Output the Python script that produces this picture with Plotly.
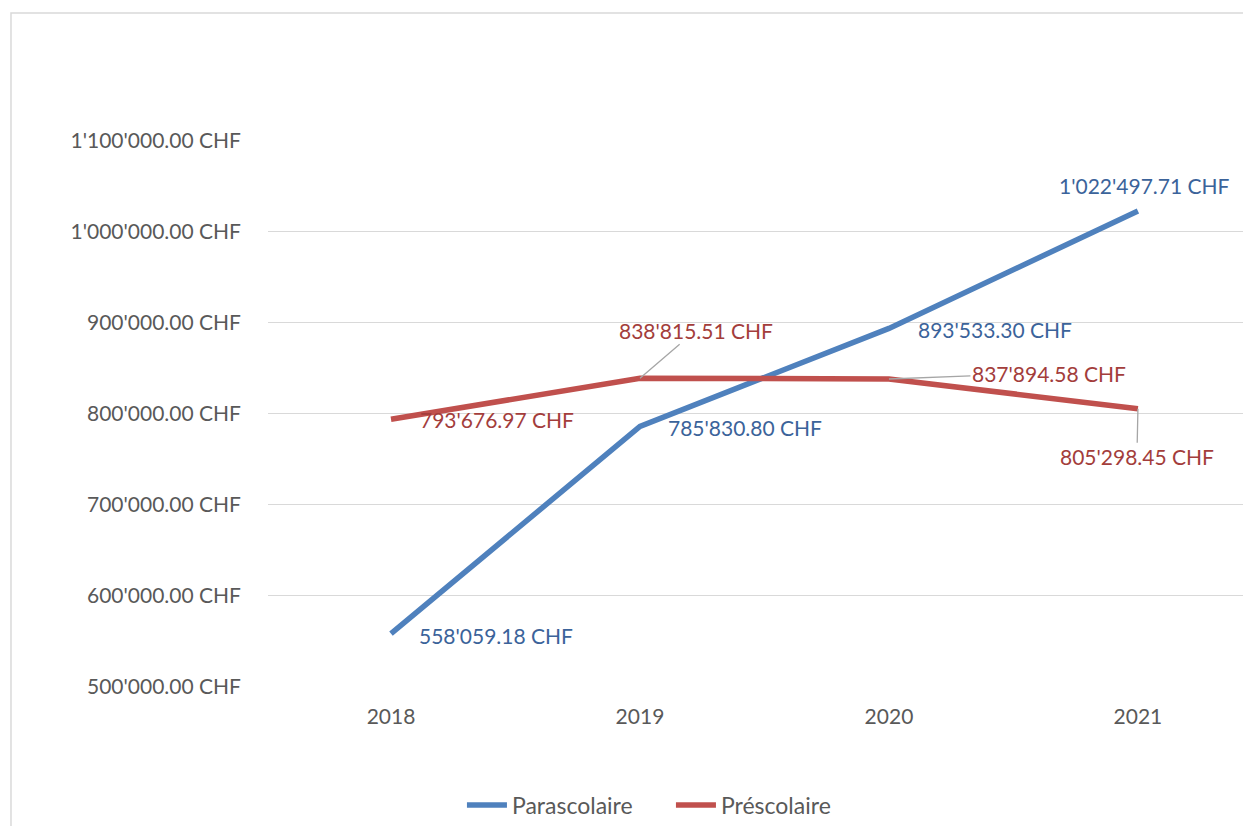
import plotly.graph_objects as go

# --- Données ---
annees = ["2018", "2019", "2020", "2021"]
parascolaire = [558059.18, 785830.80, 893533.30, 1022497.71]
prescolaire = [793676.97, 838815.51, 837894.58, 805298.45]

y_ticks = [500000, 600000, 700000, 800000, 900000, 1000000, 1100000]
y_ticktext = ["500'000.00 CHF", "600'000.00 CHF", "700'000.00 CHF", "800'000.00 CHF",
              "900'000.00 CHF", "1'000'000.00 CHF", "1'100'000.00 CHF"]

lbl_para = ["558'059.18 CHF", "785'830.80 CHF", "893'533.30 CHF", "1'022'497.71 CHF"]
lbl_pre = ["793'676.97 CHF", "838'815.51 CHF", "837'894.58 CHF", "805'298.45 CHF"]

BLEU = "#4F81BD"
ROUGE = "#C0504D"
BLEU_TXT = "#3B639A"
ROUGE_TXT = "#A33D3B"
GRIS = "#D9D9D9"
POLICE = "Lato"
TAILLE = 21

fig = go.Figure()
fig.add_trace(go.Scatter(x=annees, y=parascolaire, name="Parascolaire", mode="lines",
                         line=dict(color=BLEU, width=5.5)))
fig.add_trace(go.Scatter(x=annees, y=prescolaire, name="Préscolaire", mode="lines",
                         line=dict(color=ROUGE, width=5.5)))

# étiquettes sans trait de rappel : décalage (px)
dec_para = [(105, -2), (105, -1), (106, -1), (7, 25)]
for i in range(len(annees)):
    dx, dy = dec_para[i]
    fig.add_annotation(x=i, y=parascolaire[i], xref="x", yref="y", text=lbl_para[i],
                       showarrow=False, xshift=dx, yshift=dy,
                       font=dict(family=POLICE, size=TAILLE, color=BLEU_TXT))

# étiquettes du préscolaire (les trois dernières avec trait de rappel)
dec_pre = [(106, 0), (56, -48), (160, -6), (-1, 48)]
for i in range(len(annees)):
    dx, dy = dec_pre[i]
    if i == 0:
        fig.add_annotation(x=i, y=prescolaire[i], xref="x", yref="y", text=lbl_pre[i],
                           showarrow=False, xshift=dx, yshift=dy,
                           font=dict(family=POLICE, size=TAILLE, color=ROUGE_TXT))
    else:
        fig.add_annotation(x=i, y=prescolaire[i], xref="x", yref="y", text=lbl_pre[i],
                           showarrow=True, arrowhead=0, arrowwidth=1.3,
                           arrowcolor="#A6A6A6", ax=dx, ay=dy, standoff=0,
                           font=dict(family=POLICE, size=TAILLE, color=ROUGE_TXT))

# cadre du graphique (seuls les bords gauche et haut sont visibles)
fig.add_shape(type="path", xref="paper", yref="paper",
              path="M -0.2636,-0.4 L -0.2636,1.2322 L 1.05,1.2322",
              line=dict(color=GRIS, width=1.5))

fig.update_layout(
    width=1235, height=818,
    margin=dict(l=260, r=0, t=132, b=139),
    paper_bgcolor="white", plot_bgcolor="white",
    font=dict(family=POLICE, color="#595959", size=TAILLE),
    xaxis=dict(type="category", range=[-0.494, 3.422], showgrid=False,
               showline=False, ticks="", ticklabelstandoff=15,
               tickfont=dict(size=TAILLE, color="#595959")),
    yaxis=dict(range=[499500, 1100500], tickvals=y_ticks, ticktext=y_ticktext,
               showgrid=True, gridcolor=GRIS, gridwidth=1.3, zeroline=False,
               ticks="", ticklabelstandoff=26,
               tickfont=dict(size=TAILLE, color="#595959")),
    legend=dict(orientation="h", xref="container", yref="container",
                x=0.5368, y=0.0257, xanchor="center", yanchor="middle",
                font=dict(size=23, color="#595959"), itemwidth=40,
                entrywidth=154, entrywidthmode="pixels"),
    showlegend=True,
)

fig.write_html("out.html")
